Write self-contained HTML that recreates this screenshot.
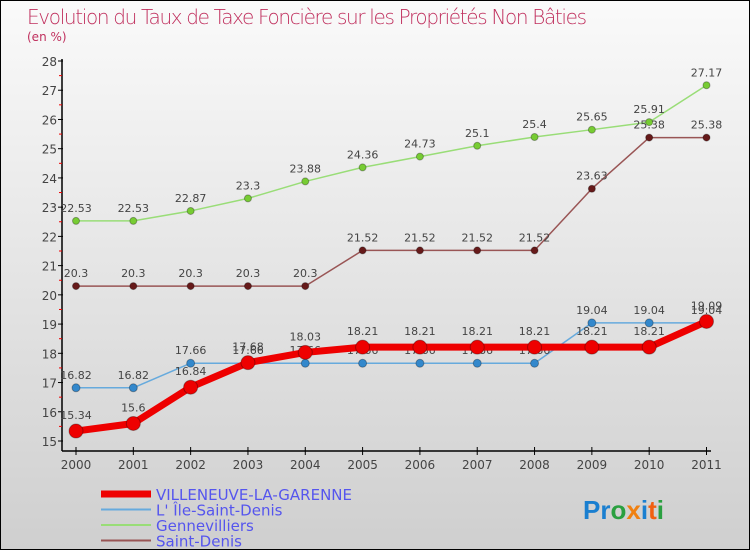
<!DOCTYPE html>
<html><head><meta charset="utf-8"><style>
body{margin:0}
#c{width:748px;height:548px;border:1px solid #000;background:linear-gradient(#fafafa,#cfcfcf);position:relative;overflow:hidden;font-family:"DejaVu Sans","Liberation Sans",sans-serif}
</style></head><body>
<div id="c">
<svg id="s" width="748" height="548" xmlns="http://www.w3.org/2000/svg">
<text x="26" y="23" font-size="20" fill="#c0305e" font-family="DejaVu Sans" style="font-weight:200" textLength="560">Evolution du Taux de Taxe Foncière sur les Propriétés Non Bâties</text>
<text x="26" y="40" font-size="12" fill="#c0305e">(en %)</text>
<g id="axes"></g><g id="series"></g><g id="legend"></g>
<text x="582" y="518" font-size="26" font-family="Liberation Sans" font-weight="bold"><tspan fill="#1a7fd0">Pr</tspan><tspan fill="#2aa040">o</tspan><tspan fill="#f08010">x</tspan><tspan fill="#1a7fd0">i</tspan><tspan fill="#f06010">t</tspan><tspan fill="#2aa040">i</tspan></text>
</svg></div>
<script>
const years=[2000,2001,2002,2003,2004,2005,2006,2007,2008,2009,2010,2011];
const villeneuve=[15.34,15.6,16.84,17.68,18.03,18.21,18.21,18.21,18.21,18.21,18.21,19.09];
const ileSaintDenis=[16.82,16.82,17.66,17.66,17.66,17.66,17.66,17.66,17.66,19.04,19.04,19.04];
const gennevilliers=[22.53,22.53,22.87,23.3,23.88,24.36,24.73,25.1,25.4,25.65,25.91,27.17];
const saintDenis=[20.3,20.3,20.3,20.3,20.3,21.52,21.52,21.52,21.52,23.63,25.38,25.38];
const yTicks=[15,16,17,18,19,20,21,22,23,24,25,26,27,28];
const NS="http://www.w3.org/2000/svg";
function X(i){return 75+i*(630.5/11);}
function Y(v){return 440-(v-15)*(380/13);}
function mk(tag,attrs,parent,text){const e=document.createElementNS(NS,tag);for(const k in attrs)e.setAttribute(k,attrs[k]);if(text!==undefined)e.textContent=text;parent.appendChild(e);return e;}
const ax=document.getElementById('axes');
let e=mk('line',{x1:61,y1:58,x2:61,y2:450,stroke:'#000','stroke-width':1.5},ax);

e=mk('line',{x1:61,y1:450,x2:710,y2:450,stroke:'#000','stroke-width':1.5},ax);

yTicks.forEach(t=>{mk('line',{x1:57,y1:Y(t),x2:62,y2:Y(t),stroke:'#000'},ax);
 if(t<28)mk('line',{x1:58,y1:Y(t+0.5),x2:61,y2:Y(t+0.5),stroke:'#e00'},ax);
 e=mk('text',{x:56,y:Y(t)+5,'text-anchor':'end','font-size':12,fill:'#444'},ax,String(t));
 });
years.forEach((y,i)=>{mk('line',{x1:X(i),y1:446,x2:X(i),y2:454,stroke:'#000'},ax);
 e=mk('text',{x:X(i),y:468,'text-anchor':'middle','font-size':12,fill:'#444'},ax,String(y));
 });
const sg=document.getElementById('series');
function series(name,vals,color,dot,w,r,lab){
 const g=mk('g',{},sg);
 
 const l=mk('polyline',{points:vals.map((v,i)=>X(i)+','+Y(v)).join(' '),fill:'none',stroke:color,'stroke-width':w,'stroke-linejoin':'round'},g);
 
 vals.forEach((v,i)=>{const c=mk('circle',{cx:X(i),cy:Y(v),r:r,fill:dot,stroke:'rgba(0,0,0,0.3)'},g);
  
  const t=mk('text',{x:X(i),y:Y(v)-lab,'text-anchor':'middle','font-size':11,fill:'#444'},g,String(v));
  });
}
series('gennevilliers',gennevilliers,'#99dd77','#77cc33',1.5,3.5,9);
series('saint-denis',saintDenis,'#995555','#661a1a',1.5,3.5,9);
series('ile-saint-denis',ileSaintDenis,'#66aadd','#3388cc',1.5,4,9);
series('villeneuve',villeneuve,'#ee0000','#ee0000',7,7,12);
const lg=document.getElementById('legend');
const leg=[['VILLENEUVE-LA-GARENNE','#ee0000',7],["L' Île-Saint-Denis",'#66aadd',2],['Gennevilliers','#99dd77',2],['Saint-Denis','#995555',2]];
leg.forEach((d,i)=>{const y=493+i*15.5;
 e=mk('line',{x1:100,y1:y,x2:150,y2:y,stroke:d[1],'stroke-width':d[2]},lg);
 
 e=mk('text',{x:155,y:y+6,'font-size':15,fill:'#5555ee'},lg,d[0]);
 });
</script></body></html>
